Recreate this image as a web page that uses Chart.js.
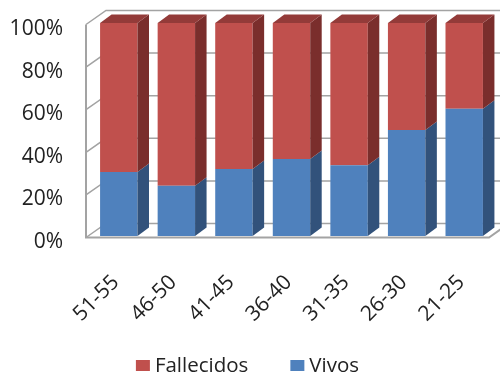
<!DOCTYPE html>
<html>
<head>
<meta charset="utf-8">
<style>
  html, body { margin: 0; padding: 0; background: #ffffff; }
  #wrap { width: 500px; height: 374px; }
</style>
<script src="https://cdn.jsdelivr.net/npm/chart.js@4/dist/chart.umd.min.js"></script>
</head>
<body>
<div id="wrap"><canvas id="chart" width="500" height="374"></canvas></div>
<script>
// Age groups (years) and share of each outcome, in percent
const ageGroups = ['51-55', '46-50', '41-45', '36-40', '31-35', '26-30', '21-25'];
const vivos = [30.0, 23.6, 31.4, 36.2, 33.2, 49.8, 59.8];
const fallecidos = [70.0, 76.4, 68.6, 63.8, 66.8, 50.2, 40.2];
const percentTicks = [0, 20, 40, 60, 80, 100];

// Faces of the 3D columns
const faceColors = {
  vivos:      { front: '#4F81BD', side: '#32527B', top: '#3F6897' },
  fallecidos: { front: '#C0504D', side: '#7A2E2C', top: '#933B39' }
};

// Offsets of the box walls and the column depth, relative to the column front plane
const FRONT = { dx: -4, dy: 1.5 };
const BACK = { dx: 16, dy: -12.5 };
const DEPTH = { dx: 11.5, dy: -8.5 };

const FONT = "'Open Sans', 'Noto Sans', sans-serif";
const TEXT_COLOR = '#222222';

const wallsPlugin = {
  id: 'walls',
  beforeDatasetsDraw(chart) {
    const { ctx, chartArea, scales } = chart;
    const yScale = scales.y;
    const left = chartArea.left, right = chartArea.right;
    ctx.save();
    ctx.strokeStyle = '#a3a3a3';
    ctx.lineWidth = 1.5;
    ctx.lineJoin = 'miter';
    // gridlines running over the side wall and along the back wall
    percentTicks.forEach(v => {
      const py = yScale.getPixelForValue(v);
      ctx.beginPath();
      ctx.moveTo(left + FRONT.dx, py + FRONT.dy);
      ctx.lineTo(left + BACK.dx, py + BACK.dy);
      ctx.lineTo(right + BACK.dx + 4, py + BACK.dy);
      ctx.stroke();
    });
    // front edges of the side wall and of the floor
    const y0 = yScale.getPixelForValue(0);
    const y100 = yScale.getPixelForValue(100);
    ctx.lineWidth = 2;
    ctx.beginPath();
    ctx.moveTo(left + FRONT.dx, y100 + FRONT.dy);
    ctx.lineTo(left + FRONT.dx, y0 + FRONT.dy);
    ctx.lineTo(right + FRONT.dx, y0 + FRONT.dy);
    ctx.lineTo(right + BACK.dx, y0 + BACK.dy);
    ctx.stroke();
    ctx.restore();
  },
  afterDatasetsDraw(chart) {
    const { ctx } = chart;
    const last = chart.data.datasets.length - 1;
    ctx.save();
    chart.data.datasets.forEach((ds, di) => {
      const meta = chart.getDatasetMeta(di);
      meta.data.forEach(bar => {
        const p = bar.getProps(['x', 'y', 'base', 'width'], true);
        const l = p.x - p.width / 2;
        const r = p.x + p.width / 2;
        const top = Math.min(p.y, p.base);
        const bottom = Math.max(p.y, p.base);
        // right side face
        ctx.fillStyle = ds.sideColor;
        ctx.beginPath();
        ctx.moveTo(r, top);
        ctx.lineTo(r + DEPTH.dx, top + DEPTH.dy);
        ctx.lineTo(r + DEPTH.dx, bottom + DEPTH.dy);
        ctx.lineTo(r, bottom);
        ctx.closePath();
        ctx.fill();
        // cap of the column
        if (di === last) {
          ctx.fillStyle = ds.topColor;
          ctx.beginPath();
          ctx.moveTo(l, top);
          ctx.lineTo(l + DEPTH.dx, top + DEPTH.dy);
          ctx.lineTo(r + DEPTH.dx, top + DEPTH.dy);
          ctx.lineTo(r, top);
          ctx.closePath();
          ctx.fill();
        }
      });
    });
    ctx.restore();
  }
};

// Legend row under the axis labels (top series first)
const legendPlugin = {
  id: 'legendRow',
  afterDraw(chart) {
    const { ctx } = chart;
    const items = chart.data.datasets.slice().reverse();
    const fontSize = 20.5;
    const boxW = 14, boxH = 11, boxGap = 5, itemGap = 42;
    const cy = 366.5;
    ctx.save();
    ctx.font = fontSize + 'px ' + FONT;
    const widths = items.map(ds => boxW + boxGap + ctx.measureText(ds.label).width);
    const total = widths.reduce((a, b) => a + b, 0) + itemGap * (items.length - 1);
    let x = 247.5 - total / 2;
    items.forEach((ds, i) => {
      ctx.fillStyle = ds.backgroundColor;
      ctx.fillRect(x, cy - boxH / 2 - 1, boxW, boxH);
      ctx.fillStyle = TEXT_COLOR;
      ctx.textAlign = 'left';
      ctx.textBaseline = 'middle';
      ctx.fillText(ds.label, x + boxW + boxGap, cy);
      x += widths[i] + itemGap;
    });
    ctx.restore();
  }
};

function noEdgePadding(scale) {
  scale.paddingTop = 0;
  scale.paddingBottom = 0;
  scale.paddingLeft = 0;
  scale.paddingRight = 0;
}

new Chart(document.getElementById('chart'), {
  type: 'bar',
  data: {
    labels: ageGroups,
    datasets: [
      {
        label: 'Vivos',
        data: vivos,
        backgroundColor: faceColors.vivos.front,
        sideColor: faceColors.vivos.side,
        topColor: faceColors.vivos.top
      },
      {
        label: 'Fallecidos',
        data: fallecidos,
        backgroundColor: faceColors.fallecidos.front,
        sideColor: faceColors.fallecidos.side,
        topColor: faceColors.fallecidos.top
      }
    ]
  },
  options: {
    responsive: false,
    animation: false,
    devicePixelRatio: 1,
    layout: { padding: { top: 23, right: 7, left: 0, bottom: 0 } },
    datasets: {
      bar: {
        categoryPercentage: 1,
        barPercentage: 0.65,
        borderWidth: 0
      }
    },
    plugins: {
      legend: { display: false },
      tooltip: { enabled: false }
    },
    scales: {
      x: {
        stacked: true,
        grid: { display: false, drawTicks: false },
        border: { display: false },
        ticks: {
          autoSkip: false,
          minRotation: 45,
          maxRotation: 45,
          padding: 34,
          labelOffset: -3,
          color: TEXT_COLOR,
          font: { family: FONT, size: 21 }
        },
        afterFit(scale) {
          scale.height = 138;
          noEdgePadding(scale);
        }
      },
      y: {
        stacked: true,
        min: 0,
        max: 100,
        grid: { display: false, drawTicks: false },
        border: { display: false },
        afterBuildTicks(scale) {
          scale.ticks = percentTicks.map(v => ({ value: v }));
        },
        ticks: {
          padding: 27,
          labelOffset: 6,
          color: TEXT_COLOR,
          font: { family: FONT, size: 21 },
          callback: v => v + '%'
        },
        afterFit(scale) {
          scale.width = 90;
          noEdgePadding(scale);
        }
      }
    }
  },
  plugins: [wallsPlugin, legendPlugin]
});
</script>
</body>
</html>
